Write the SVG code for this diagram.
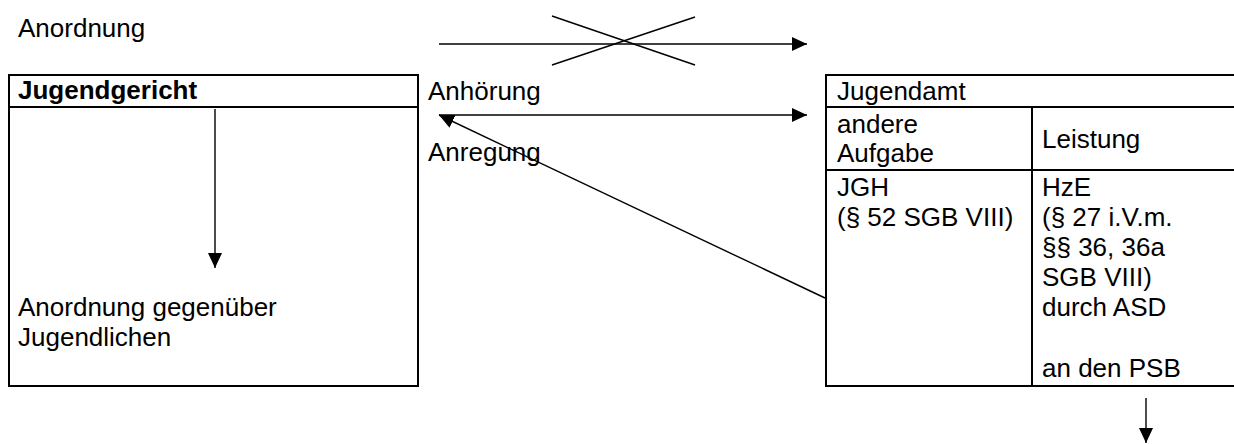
<svg xmlns="http://www.w3.org/2000/svg" width="1234" height="444" viewBox="0 0 1234 444">
<style>
text{font-family:"Liberation Sans",Arial,sans-serif;font-size:26px;fill:#000}
.b{font-weight:bold}
.frame{fill:none;stroke:#000;stroke-width:2}
.conn{fill:none;stroke:#000;stroke-width:1.4}
</style>
<defs>
<marker id="ah" markerUnits="userSpaceOnUse" markerWidth="16" markerHeight="14" refX="15" refY="7" orient="auto">
<path d="M0,0 L15,7 L0,14 Z" fill="#000"/>
</marker>
</defs>
<rect width="1234" height="444" fill="#fff"/>
<g id="label-anordnung">
<text x="18" y="37">Anordnung</text>
</g>
<g id="jugendgericht">
<rect class="frame" x="9" y="75" width="409" height="311"/>
<line class="frame" x1="9" y1="107" x2="418" y2="107"/>
<text class="b" x="18" y="99">Jugendgericht</text>
<text x="18" y="316">Anordnung gegenüber</text>
<text x="18" y="346">Jugendlichen</text>
</g>
<g id="jugendamt">
<path class="frame" d="M1234,75 H826 V386 H1234 M826,107 H1234 M826,170 H1234 M1032,107 V386"/>
<text x="837" y="100">Jugendamt</text>
<text x="837" y="133">andere</text>
<text x="837" y="162">Aufgabe</text>
<text x="1042" y="148">Leistung</text>
<text x="837" y="196">JGH</text>
<text x="837" y="226">(§ 52 SGB VIII)</text>
<text x="1042" y="196">HzE</text>
<text x="1042" y="226">(§ 27 i.V.m.</text>
<text x="1042" y="256">§§ 36, 36a</text>
<text x="1042" y="286">SGB VIII)</text>
<text x="1042" y="316">durch ASD</text>
<text x="1042" y="377">an den PSB</text>
</g>
<g id="middle-labels">
<text x="428" y="100">Anhörung</text>
<text x="428" y="161">Anregung</text>
</g>
<g id="connectors">
<line class="conn" x1="439" y1="44" x2="807" y2="44" marker-end="url(#ah)"/>
<line class="conn" x1="552" y1="16" x2="695" y2="65"/>
<line class="conn" x1="552" y1="65" x2="695" y2="17"/>
<line class="conn" x1="439" y1="115" x2="807" y2="115" marker-end="url(#ah)"/>
<line class="conn" x1="825" y1="298" x2="439" y2="115" marker-end="url(#ah)"/>
<line class="conn" x1="215" y1="109" x2="215" y2="268" marker-end="url(#ah)"/>
<line class="conn" x1="1146" y1="398" x2="1146" y2="443" marker-end="url(#ah)"/>
</g>
</svg>
